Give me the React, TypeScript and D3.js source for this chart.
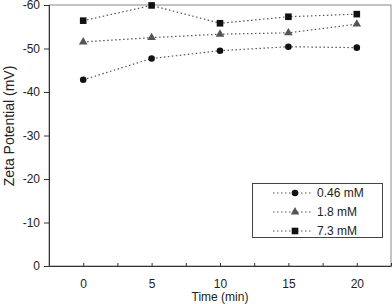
import React, { useEffect, useRef } from "react";
import * as d3 from "d3";

const times = [0, 5, 10, 15, 20];
const low = [-42.8, -47.7, -49.5, -50.4, -50.2];
const mid = [-51.5, -52.5, -53.3, -53.6, -55.6];
const high = [-56.4, -59.9, -55.8, -57.3, -57.9];
const seriesNames = ["0.46 mM", "1.8 mM", "7.3 mM"];
const yTicks = [0, -10, -20, -30, -40, -50, -60];
const xTicks = [-2.5, 0, 2.5, 5, 7.5, 10, 12.5, 15, 17.5, 20, 22.5];

const App = () => {
  const svgRef = useRef<SVGSVGElement>(null);

  useEffect(() => {
    const width = 392, height = 304;
    const left = 49, right = 391, top = 5, bottom = 266;
    const font = "Liberation Sans, Arial, sans-serif";

    const svg = d3.select(svgRef.current)
      .attr("width", width)
      .attr("height", height)
      .style("background", "#fff");
    svg.selectAll("*").remove();

    const x = d3.scaleLinear().domain([-2.5, 22.5]).range([left, right]);
    const y = d3.scaleLinear().domain([0, -60]).range([bottom, top]);

    // frame
    svg.append("rect")
      .attr("x", left).attr("y", top)
      .attr("width", right - left).attr("height", bottom - top)
      .attr("fill", "none").attr("stroke", "#888").attr("stroke-width", 1);

    // y axis
    const yAxis = svg.append("g")
      .attr("transform", `translate(${left},0)`)
      .call(d3.axisLeft(y).tickValues(yTicks).tickSize(5).tickPadding(4).tickFormat(d => String(d)));
    yAxis.select(".domain").attr("stroke", "#333");
    yAxis.selectAll(".tick line").attr("stroke", "#333");
    yAxis.selectAll("text").attr("font-family", font).attr("font-size", 12).attr("fill", "#222");

    // x axis
    const xAxis = svg.append("g")
      .attr("transform", `translate(0,${bottom})`)
      .call(d3.axisBottom(x).tickValues(xTicks).tickSizeInner(-3).tickSizeOuter(0).tickPadding(13)
        .tickFormat(d => (+d % 5 === 0 && +d >= 0 && +d <= 20 ? String(d) : "")));
    xAxis.select(".domain").attr("stroke", "#333");
    xAxis.selectAll(".tick line").attr("stroke", "#333");
    xAxis.selectAll("text").attr("font-family", font).attr("font-size", 12).attr("fill", "#222");

    svg.append("text")
      .attr("x", (x(0) + x(20)) / 2).attr("y", 301)
      .attr("text-anchor", "middle")
      .attr("font-family", font).attr("font-size", 12).attr("fill", "#222")
      .text("Time (min)");

    svg.append("text")
      .attr("transform", "rotate(-90)")
      .attr("x", -126).attr("y", 14)
      .attr("text-anchor", "middle")
      .attr("font-family", font).attr("font-size", 14).attr("fill", "#222")
      .text("Zeta Potential (mV)");

    const all = [low, mid, high];
    const colors = ["#111", "#555", "#111"];
    const line = d3.line<number>().x((_, i) => x(times[i])).y(d => y(d));

    const marker = (g: any, k: number, cx: number, cy: number) => {
      if (k === 0) {
        g.append("circle").attr("cx", cx).attr("cy", cy).attr("r", 3.3).attr("fill", colors[k]);
      } else if (k === 1) {
        g.append("path")
          .attr("d", d3.symbol().type(d3.symbolTriangle).size(32)())
          .attr("transform", `translate(${cx},${cy})`)
          .attr("fill", colors[k]);
      } else {
        g.append("rect").attr("x", cx - 3.3).attr("y", cy - 3.3)
          .attr("width", 6.6).attr("height", 6.6).attr("fill", colors[k]);
      }
    };

    all.forEach((vals, k) => {
      svg.append("path")
        .attr("d", line(vals))
        .attr("fill", "none")
        .attr("stroke", "#555")
        .attr("stroke-width", 1.2)
        .attr("stroke-dasharray", "1.5,2.5");
      const g = svg.append("g");
      vals.forEach((v, i) => marker(g, k, x(times[i]), y(v)));
    });

    // legend
    const lg = svg.append("g");
    lg.append("rect")
      .attr("x", 252.5).attr("y", 183.5).attr("width", 130).attr("height", 54)
      .attr("fill", "#fff").attr("stroke", "#444");
    seriesNames.forEach((name, k) => {
      const ly = 193 + k * 19;
      lg.append("line")
        .attr("x1", 273).attr("x2", 313).attr("y1", ly).attr("y2", ly)
        .attr("stroke", "#555").attr("stroke-width", 1.2).attr("stroke-dasharray", "1.5,2.5");
      marker(lg, k, 295, ly);
      lg.append("text")
        .attr("x", 317).attr("y", ly + 4)
        .attr("font-family", font).attr("font-size", 12).attr("fill", "#222")
        .text(name);
    });
  }, []);

  return <svg ref={svgRef} style={{ position: "absolute", left: 0, top: 0 }}></svg>;
};

export default App;
